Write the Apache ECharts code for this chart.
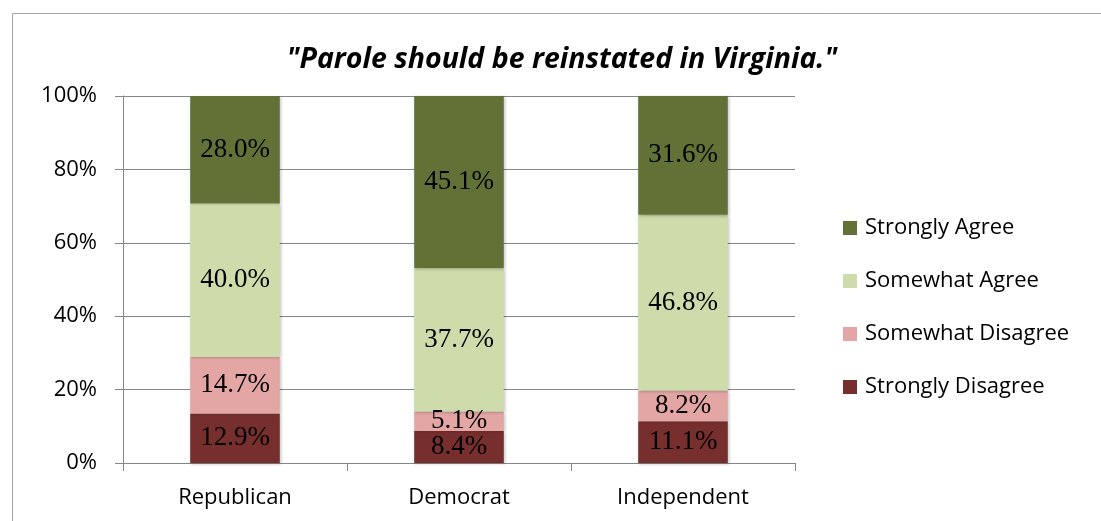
<!DOCTYPE html>
<html><head><meta charset="utf-8">
<script src="https://cdn.jsdelivr.net/npm/echarts@6/dist/echarts.min.js"></script>
<style>html,body{margin:0;padding:0;background:#fff}#c{width:1101px;height:521px}</style>
</head><body><div id="c"></div>
<script>
const categories = ['Republican', 'Democrat', 'Independent'];
const seriesNames = ['Strongly Disagree', 'Somewhat Disagree', 'Somewhat Agree', 'Strongly Agree'];
const stronglyDisagree = [12.9, 8.4, 11.1];
const somewhatDisagree = [14.7, 5.1, 8.2];
const somewhatAgree = [40.0, 37.7, 46.8];
const stronglyAgree = [28.0, 45.1, 31.6];
const colors = ['#772f2e', '#e3a6a5', '#cddcaa', '#627236'];
const titleText = '"Parole should be reinstated in Virginia."';

const raw = [stronglyDisagree, somewhatDisagree, somewhatAgree, stronglyAgree];
const totals = categories.map((_, i) => raw.reduce((s, a) => s + a[i], 0));

const chart = echarts.init(document.getElementById('c'), null, {renderer: 'canvas'});
const sansFont = 'Open Sans';
chart.setOption({
  animation: false,
  title: {
    text: titleText, left: 562, top: 45, textAlign: 'center', padding: 0,
    textStyle: {fontFamily: sansFont, fontStyle: 'italic', fontWeight: 'bold', fontSize: 28.5, color: '#000'}
  },
  graphic: [{
    type: 'rect', shape: {x: 12.5, y: 13.5, width: 1200, height: 600},
    style: {fill: 'none', stroke: '#a6a6a6', lineWidth: 1}, silent: true, z: -1
  }],
  legend: {
    orient: 'vertical', left: 843, top: 217, itemGap: 31, itemWidth: 14, itemHeight: 14, padding: 0,
    data: seriesNames.slice().reverse(), icon: 'rect',
    textStyle: {fontFamily: sansFont, fontSize: 22, color: '#000', padding: [0, 0, 0, 3]}
  },
  grid: {left: 123, right: 306, top: 96, bottom: 58, containLabel: false},
  xAxis: {
    type: 'category', data: categories,
    axisLine: {lineStyle: {color: '#868686'}},
    axisTick: {show: true, alignWithLabel: false, length: 8, lineStyle: {color: '#868686'}},
    axisLabel: {fontFamily: sansFont, fontSize: 22, color: '#000', margin: 24}
  },
  yAxis: {
    type: 'value', min: 0, max: 100, interval: 20,
    axisLine: {show: true, lineStyle: {color: '#868686'}},
    axisTick: {show: true, length: 8, lineStyle: {color: '#868686'}},
    splitLine: {lineStyle: {color: '#868686'}},
    axisLabel: {fontFamily: sansFont, fontSize: 22, color: '#000', margin: 26, formatter: v => v + '%'}
  },
  series: raw.map((arr, k) => ({
    name: seriesNames[k], type: 'bar', stack: 'total', barWidth: '40%',
    itemStyle: {color: colors[k], shadowColor: 'rgba(0,0,0,0.25)', shadowBlur: 3, shadowOffsetX: 1, shadowOffsetY: 1},
    label: {
      show: true, position: 'inside', fontFamily: 'Liberation Serif', fontSize: 27, color: '#000',
      formatter: p => arr[p.dataIndex].toFixed(1) + '%'
    },
    data: arr.map((v, i) => v / totals[i] * 100)
  }))
});
</script></body></html>
